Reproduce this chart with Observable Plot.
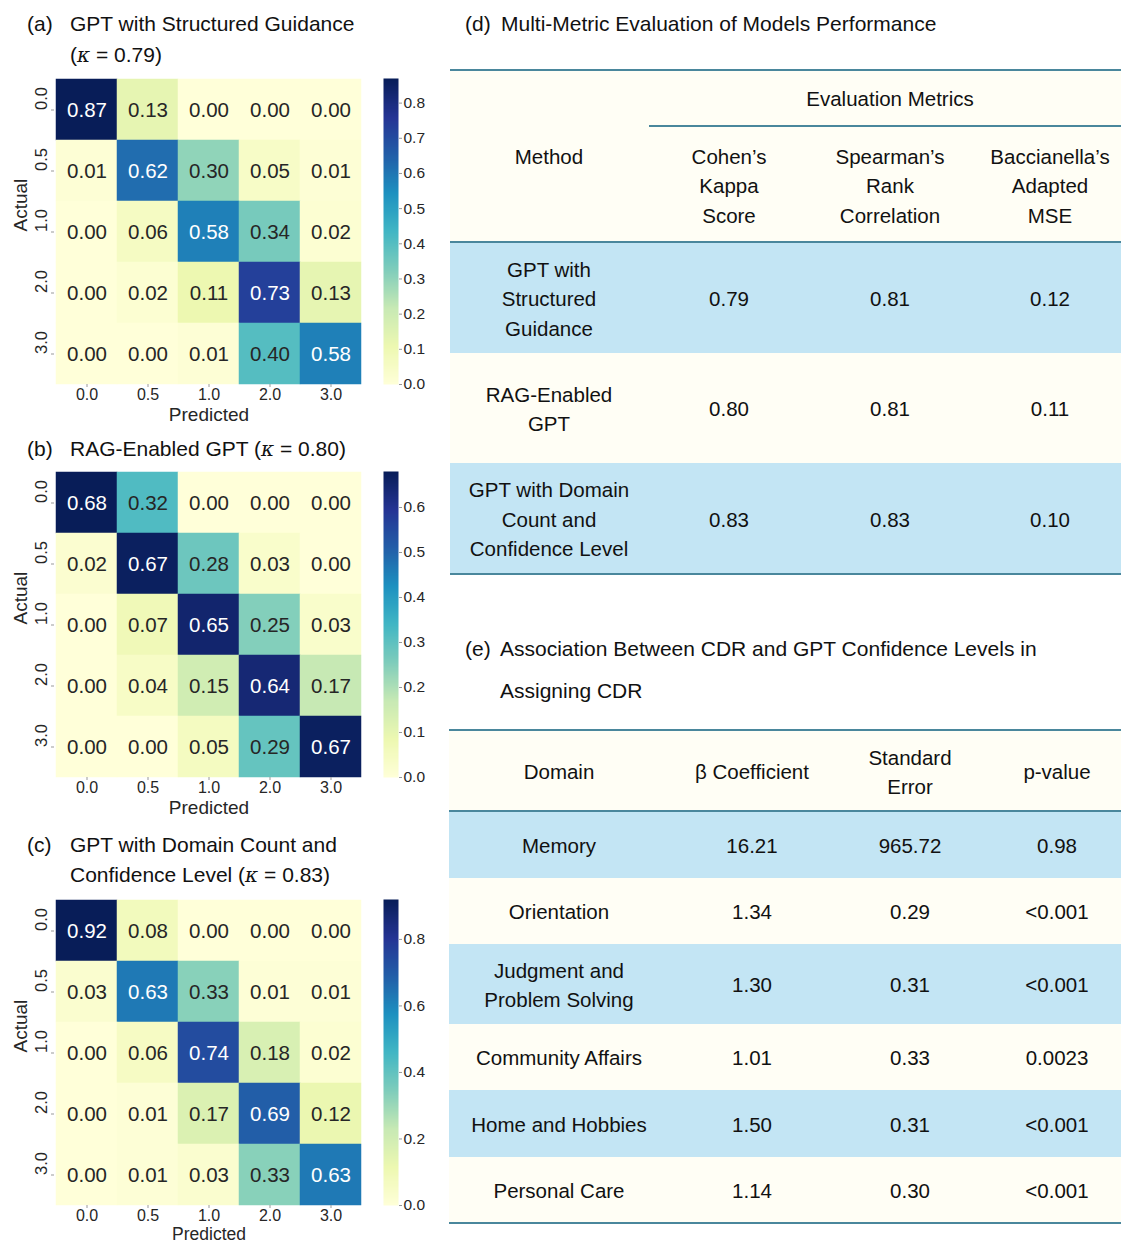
<!DOCTYPE html>
<html><head><meta charset="utf-8">
<script src="https://cdn.jsdelivr.net/npm/d3@7"></script>
<script src="https://cdn.jsdelivr.net/npm/@observablehq/plot@0.6"></script>
<style>
body{margin:0;background:#fff;font-family:"Liberation Sans",Arial,Helvetica,sans-serif;color:#111;}
#root{position:relative;width:1121px;height:1243px;overflow:hidden;background:#fff;}
.abs{position:absolute;}
.title{font-size:21px;line-height:30px;white-space:nowrap;color:#111;}
.cell{position:absolute;display:flex;align-items:center;justify-content:center;text-align:center;font-size:20.5px;line-height:29.5px;color:#111;}
.k{font-style:italic;font-family:"DejaVu Serif","Liberation Serif",serif;font-size:20px;}
</style></head><body><div id="root"></div>
<script>
// ---------- data ----------
const levels = ["0.0", "0.5", "1.0", "2.0", "3.0"];
const matrixA = [
  [0.87, 0.13, 0.00, 0.00, 0.00],
  [0.01, 0.62, 0.30, 0.05, 0.01],
  [0.00, 0.06, 0.58, 0.34, 0.02],
  [0.00, 0.02, 0.11, 0.73, 0.13],
  [0.00, 0.00, 0.01, 0.40, 0.58]
];
const matrixB = [
  [0.68, 0.32, 0.00, 0.00, 0.00],
  [0.02, 0.67, 0.28, 0.03, 0.00],
  [0.00, 0.07, 0.65, 0.25, 0.03],
  [0.00, 0.04, 0.15, 0.64, 0.17],
  [0.00, 0.00, 0.05, 0.29, 0.67]
];
const matrixC = [
  [0.92, 0.08, 0.00, 0.00, 0.00],
  [0.03, 0.63, 0.33, 0.01, 0.01],
  [0.00, 0.06, 0.74, 0.18, 0.02],
  [0.00, 0.01, 0.17, 0.69, 0.12],
  [0.00, 0.01, 0.03, 0.33, 0.63]
];
const ticksA = [0.0, 0.1, 0.2, 0.3, 0.4, 0.5, 0.6, 0.7, 0.8];
const ticksB = [0.0, 0.1, 0.2, 0.3, 0.4, 0.5, 0.6];
const ticksC = [0.0, 0.2, 0.4, 0.6, 0.8];

const methods = ["GPT with<br>Structured<br>Guidance", "RAG-Enabled<br>GPT", "GPT with Domain<br>Count and<br>Confidence Level"];
const kappaScores = ["0.79", "0.80", "0.83"];
const spearmanScores = ["0.81", "0.81", "0.83"];
const mseScores = ["0.12", "0.11", "0.10"];

const domains = ["Memory", "Orientation", "Judgment and<br>Problem Solving", "Community Affairs", "Home and Hobbies", "Personal Care"];
const betaCoef = ["16.21", "1.34", "1.30", "1.01", "1.50", "1.14"];
const stdErr = ["965.72", "0.29", "0.31", "0.33", "0.31", "0.30"];
const pValues = ["0.98", "<0.001", "<0.001", "0.0023", "<0.001", "<0.001"];

// ---------- style ----------
const ylgnbu = ["#ffffd9","#edf8b1","#c7e9b4","#7fcdbb","#41b6c4","#1d91c0","#225ea8","#253494","#081d58"];
const interp = d3.piecewise(d3.interpolateRgb, ylgnbu);
const FONT = "Liberation Sans, Arial, Helvetica, sans-serif";
const root = document.getElementById("root");

function relLum(c) {
  const {r, g, b} = d3.rgb(c);
  const f = v => { v /= 255; return v <= 0.03928 ? v / 12.92 : Math.pow((v + 0.055) / 1.055, 2.4); };
  return 0.2126 * f(r) + 0.7152 * f(g) + 0.0722 * f(b);
}

function place(el, left, top) {
  el.style.position = "absolute";
  el.style.left = left + "px";
  el.style.top = top + "px";
  root.appendChild(el);
}

function heatmap(matrix, ticks, frameTop, frameH, labelDy, labelSize) {
  const max = d3.max(matrix.flat());
  const data = [];
  matrix.forEach((row, i) => row.forEach((v, j) => data.push({actual: levels[i], predicted: levels[j], v})));
  const isDark = d => relLum(interp(d.v / max)) < 0.408;
  const mb = 50;
  const p = Plot.plot({
    width: 364, height: frameH + mb,
    marginLeft: 54, marginRight: 1, marginTop: 0, marginBottom: mb,
    style: {fontFamily: FONT, color: "#262626", background: "transparent", overflow: "visible"},
    x: {domain: levels, padding: 0},
    y: {domain: levels, padding: 0},
    color: {type: "linear", domain: [0, max], interpolate: interp},
    marks: [
      Plot.cell(data, {x: "predicted", y: "actual", fill: "v", stroke: "v", strokeWidth: 0.5}),
      Plot.text(data, {filter: d => !isDark(d), x: "predicted", y: "actual", text: d => d.v.toFixed(2), fill: "#262626", fontSize: 20.5}),
      Plot.text(data, {filter: isDark, x: "predicted", y: "actual", text: d => d.v.toFixed(2), fill: "#ffffff", fontSize: 20.5}),
      Plot.axisX({tickSize: 3, tickPadding: 1, fontSize: 16, label: null, stroke: "#999"}),
      Plot.axisY({tickSize: 3, tickFormat: () => "", label: null, stroke: "#999"}),
      Plot.text(levels, {y: d => d, text: d => d, frameAnchor: "left", dx: -13, rotate: -90, fontSize: 16.5, fill: "#262626"}),
      Plot.text(["Predicted"], {frameAnchor: "bottom", lineAnchor: "middle", dy: labelDy, fontSize: labelSize, fill: "#262626"}),
      Plot.text(["Actual"], {frameAnchor: "left", dx: -34, rotate: -90, fontSize: 19, fill: "#262626"})
    ]
  });
  place(p, 0, frameTop);

  const cb = Plot.plot({
    width: 50, height: frameH + 20,
    marginLeft: 0, marginRight: 35, marginTop: 10, marginBottom: 10,
    style: {fontFamily: FONT, color: "#262626", background: "transparent", overflow: "visible"},
    x: {domain: [0, 1], axis: null},
    y: {domain: [0, max], axis: null},
    color: {type: "linear", domain: [0, max], interpolate: interp},
    marks: [
      Plot.raster({x1: 0, x2: 1, y1: 0, y2: max, fill: (x, y) => y, width: 1, height: 300, imageRendering: "auto"}),
      Plot.axisY(ticks, {anchor: "right", tickSize: 3, tickPadding: 2, fontSize: 15.5, tickFormat: d3.format(".1f"), label: null, stroke: "#999"})
    ]
  });
  place(cb, 383, frameTop - 10);
}

function title(html, left, cy) {
  const d = document.createElement("div");
  d.className = "title";
  d.innerHTML = html;
  place(d, left, cy - 15);
}

// heatmap titles
title("(a)", 27, 24); title("GPT with Structured Guidance", 70, 24); title('(<span class="k">κ</span> = 0.79)', 70, 55);
title("(b)", 27, 449); title('RAG-Enabled GPT (<span class="k">κ</span> = 0.80)', 70, 449);
title("(c)", 27, 845); title("GPT with Domain Count and", 70, 845); title('Confidence Level (<span class="k">κ</span> = 0.83)', 70, 875);

heatmap(matrixA, ticksA, 78, 306, 30, 19);
heatmap(matrixB, ticksB, 471, 306, 30, 19);
heatmap(matrixC, ticksC, 899, 306, 29, 17.5);

// ---------- tables ----------
const BLUE = "#c3e5f4", CREAM = "#fffef5", LINE = "#4a879c";
function rect(left, top, w, h, bg) {
  const d = document.createElement("div");
  d.style.width = w + "px"; d.style.height = h + "px"; d.style.background = bg;
  place(d, left, top);
}
function txt(html, cx, cy, w) {
  const d = document.createElement("div");
  d.className = "cell";
  d.innerHTML = html;
  d.style.width = w + "px"; d.style.height = "200px";
  place(d, cx - w / 2, cy - 100);
}

// (d)
title("(d)", 465, 24); title("Multi-Metric Evaluation of Models Performance", 501, 24);
rect(450, 69, 671, 505, CREAM);
const dCols = [549, 729, 890, 1050];
const dRows = [[243, 353, BLUE], [353, 463, CREAM], [463, 574, BLUE]];
dRows.forEach(([t, b, bg]) => rect(450, t, 671, b - t, bg));
rect(450, 69, 671, 2, LINE);
rect(649, 125, 472, 1.5, LINE);
rect(450, 241, 671, 2, LINE);
rect(450, 573, 671, 2, LINE);
txt("Evaluation Metrics", 890, 99, 300);
txt("Method", dCols[0], 157, 190);
txt("Cohen’s<br>Kappa<br>Score", dCols[1], 186, 150);
txt("Spearman’s<br>Rank<br>Correlation", dCols[2], 186, 160);
txt("Baccianella’s<br>Adapted<br>MSE", dCols[3], 186, 160);
dRows.forEach(([t, b], i) => {
  const cy = (t + b) / 2 + 1;
  txt(methods[i], dCols[0], cy, 200);
  txt(kappaScores[i], dCols[1], cy, 150);
  txt(spearmanScores[i], dCols[2], cy, 150);
  txt(mseScores[i], dCols[3], cy, 150);
});

// (e)
title("(e)", 465, 649); title("Association Between CDR and GPT Confidence Levels in", 500, 649);
title("Assigning CDR", 500, 691);
rect(449, 730, 672, 493, CREAM);
const eCols = [559, 752, 910, 1057];
const eRows = [[811, 878, BLUE], [878, 944, CREAM], [944, 1024, BLUE], [1024, 1090, CREAM], [1090, 1157, BLUE], [1157, 1222, CREAM]];
eRows.forEach(([t, b, bg]) => rect(449, t, 672, b - t, bg));
rect(449, 729, 672, 2, LINE);
rect(449, 810, 672, 2, LINE);
rect(449, 1222, 672, 2, LINE);
txt("Domain", eCols[0], 772, 220);
txt("β Coefficient", eCols[1], 772, 170);
txt("Standard<br>Error", eCols[2], 772, 150);
txt("p-value", eCols[3], 772, 140);
eRows.forEach(([t, b], i) => {
  const cy = (t + b) / 2 + 1;
  txt(domains[i], eCols[0], cy, 220);
  txt(betaCoef[i], eCols[1], cy, 170);
  txt(stdErr[i], eCols[2], cy, 150);
  txt(pValues[i], eCols[3], cy, 140);
});
</script></body></html>
